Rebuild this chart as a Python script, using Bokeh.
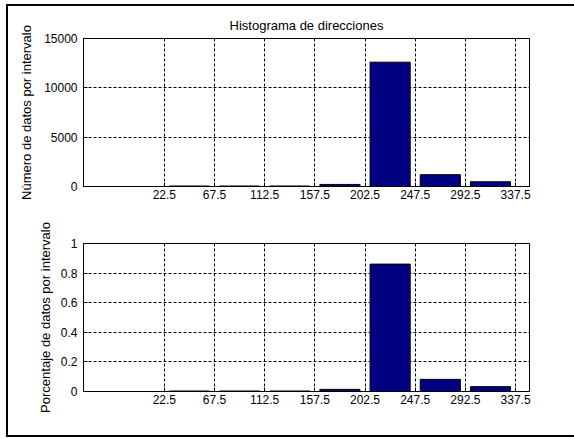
from bokeh.plotting import figure
from bokeh.layouts import column
from bokeh.models import Range1d, FixedTicker
from bokeh.embed import file_html
from bokeh.resources import INLINE

# ---- data ----
centers = [0, 45, 90, 135, 180, 225, 270, 315]
counts = [0, 50, 50, 50, 210, 12600, 1200, 480]
xticks = [22.5, 67.5, 112.5, 157.5, 202.5, 247.5, 292.5, 337.5]
yticks_count = [0, 5000, 10000, 15000]
yticks_pct = [0, 0.2, 0.4, 0.6, 0.8, 1]
yticklabels_pct = ["0", "0.2", "0.4", "0.6", "0.8", "1"]
total = sum(counts)
pct = [c / total for c in counts]

title_text = "Histograma de direcciones"
ylabel_top = "Número de datos por intervalo"
ylabel_bot = "Porcentaje de datos por intervalo"

FONT = "Liberation Sans"
BAR = "#000080"


def make_fig(values, yr, yticks, ylabel, title, height, bt, bb, label_standoff, overrides=None):
    p = figure(width=566, height=height, output_backend="svg", toolbar_location=None,
               x_range=Range1d(-50, 350), y_range=Range1d(*yr),
               min_border_left=75, min_border_right=45, min_border_top=bt, min_border_bottom=bb,
               title=title)
    p.vbar(x=centers, top=values, bottom=0, width=36, fill_color=BAR,
           line_color="black", line_width=1)
    p.outline_line_color = "black"
    p.outline_line_width = 1
    p.background_fill_color = "white"
    p.border_fill_color = "white"
    if title:
        p.title.text_font = FONT
        p.title.text_font_size = "13px"
        p.title.text_font_style = "normal"
        p.title.align = "center"
        p.title.text_color = "black"
        p.title.standoff = 11
    for ax in (p.xaxis[0], p.yaxis[0]):
        ax.major_label_text_font = FONT
        ax.major_label_text_font_size = "12px"
        ax.major_label_text_color = "black"
        ax.axis_line_color = "black"
        ax.major_tick_line_color = "black"
        ax.major_tick_in = 4
        ax.major_tick_out = 0
        ax.minor_tick_line_color = None
        ax.axis_label_text_font = FONT
        ax.axis_label_text_font_size = "13px"
        ax.axis_label_text_font_style = "normal"
        ax.axis_label_text_color = "black"
    p.xaxis.ticker = FixedTicker(ticks=xticks)
    p.xaxis.major_label_standoff = 3
    p.yaxis.ticker = FixedTicker(ticks=yticks)
    p.yaxis.major_label_standoff = 6
    p.yaxis.axis_label = ylabel
    p.yaxis.axis_label_standoff = label_standoff
    if overrides:
        p.yaxis.major_label_overrides = overrides
    for g in (p.xgrid[0], p.ygrid[0]):
        g.grid_line_color = "black"
        g.grid_line_dash = "3 2"
        g.grid_line_width = 1
    return p


p1 = make_fig(counts, (0, 15000), yticks_count, ylabel_top, title_text, 209, 32, 29, 7)
p2 = make_fig(pct, (0, 1), yticks_pct, ylabel_bot, None, 220, 28, 44, 5,
              overrides={t: l for t, l in zip(yticks_pct, yticklabels_pct)})

layout = column(p1, p2, spacing=0,
                styles={"border-left": "2px solid black", "border-top": "2px solid black",
                        "border-bottom": "2px solid black", "background-color": "white",
                        "margin-left": "6px", "margin-top": "4px"})

open("out.html", "w").write(file_html(layout, INLINE))
